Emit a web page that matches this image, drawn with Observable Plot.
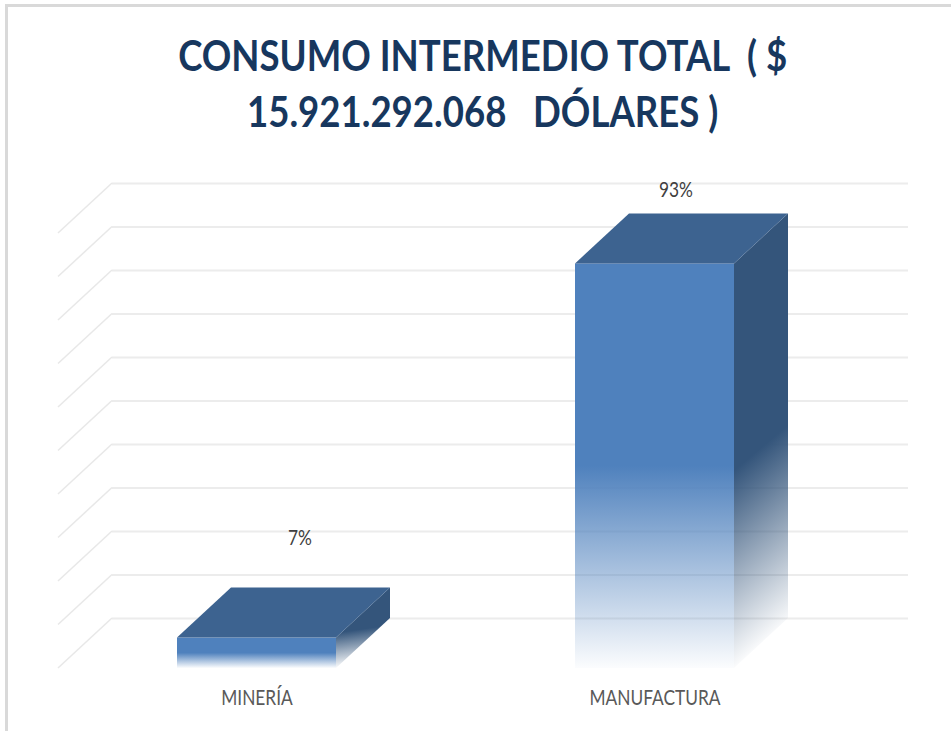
<!DOCTYPE html>
<html>
<head>
<meta charset="utf-8">
<script src="https://cdn.jsdelivr.net/npm/d3@7"></script>
<script src="https://cdn.jsdelivr.net/npm/@observablehq/plot@0.6"></script>
<style>
  html, body { margin: 0; padding: 0; background: #fff; }
  #wrap { position: relative; width: 951px; height: 731px; overflow: hidden; background: #fff; }
  #frame { position: absolute; left: 5px; top: 4px; right: -10px; bottom: -10px;
           border-left: 3px solid #d9d9d9; border-top: 3px solid #d9d9d9; pointer-events: none; }
  #title { height: 150px; box-sizing: border-box; padding-top: 27px; padding-left: 14px;
           text-align: center; font-family: Lato, "Open Sans", sans-serif;
           font-weight: bold; font-size: 42px; line-height: 56px; color: #17375e; white-space: pre; }
  #title span { display: inline-block; transform-origin: 50% 50%; }
  #chart svg { display: block; background: transparent; }
</style>
</head>
<body>
<div id="wrap">
  <div id="title"></div>
  <div id="chart"></div>
  <div id="frame"></div>
</div>
<script>
// ---- data ----
const titleLines = ["CONSUMO INTERMEDIO TOTAL  ( $", "15.921.292.068   DÓLARES )"];
const categories = ["MINERÍA", "MANUFACTURA"];
const shares = [7, 93];
const shareLabels = ["7%", "93%"];
const gridTicks = [0, 10, 20, 30, 40, 50, 60, 70, 80, 90, 100];

// ---- layout constants ----
const DX = -54, DY = 50;            // 3D depth offset in pixels
const TITLE_WIDTH = 609;            // width of first title line
const LABEL_REF_WIDTH = 131;        // width of the longest category label
const FONT = 'Lato, "Open Sans", sans-serif';

const titleEl = document.getElementById("title");
titleEl.innerHTML = titleLines.map(t => `<div><span>${t}</span></div>`).join("");

const rows = categories.map((c, i) => ({cat: c, value: shares[i], label: shareLabels[i]}));

function bw(x) { return typeof x.bandwidth === "function" ? x.bandwidth() : 0; }

function diagonals(index, scales) {
  const {x, y} = scales;
  const x0 = x.range()[0];
  const g = d3.create("svg:g").attr("stroke", "#e8e8e8").attr("stroke-width", 1.5).attr("fill", "none");
  for (const t of gridTicks) {
    g.append("line").attr("x1", x0).attr("y1", y(t)).attr("x2", x0 + DX).attr("y2", y(t) + DY);
  }
  return g.node();
}

function sideFaces(index, scales) {
  const {x, y} = scales;
  const g = d3.create("svg:g");
  rows.forEach(r => {
    const xr = x(r.cat) + bw(x);
    const yt = y(r.value), yb = y(0);
    g.append("polygon")
      .attr("points", [[xr, yt], [xr, yb], [xr + DX, yb + DY], [xr + DX, yt + DY]].map(p => p.join(",")).join(" "))
      .attr("fill", "url(#sideGrad)");
  });
  return g.node();
}

function topFaces(index, scales) {
  const {x, y} = scales;
  const g = d3.create("svg:g");
  rows.forEach(r => {
    const xl = x(r.cat), xr = xl + bw(x);
    const yt = y(r.value);
    g.append("polygon")
      .attr("points", [[xl, yt], [xr, yt], [xr + DX, yt + DY], [xl + DX, yt + DY]].map(p => p.join(",")).join(" "))
      .attr("fill", "#3d6390");
  });
  return g.node();
}

const svg = Plot.plot({
  width: 951,
  height: 581,
  marginLeft: 112,
  marginRight: 43,
  marginTop: 33,
  marginBottom: 113,
  style: {background: "transparent", fontFamily: FONT},
  x: {type: "band", domain: categories, paddingInner: 0.6, paddingOuter: 0.3, axis: null},
  y: {domain: [0, 100], axis: null},
  marks: [
    Plot.ruleY(gridTicks, {stroke: "#ececec", strokeWidth: 2}),
    diagonals,
    sideFaces,
    Plot.barY(rows, {x: "cat", y: "value", dx: DX, dy: DY, fill: "url(#frontGrad)"}),
    topFaces,
    Plot.text(rows.filter(r => r.cat === categories[0]), {x: "cat", y: "value", text: "label", dx: -11, dy: -50,
      fill: "#404040", fontSize: 21, lineAnchor: "middle"}),
    Plot.text(rows.filter(r => r.cat === categories[1]), {x: "cat", y: "value", text: "label", dx: -33, dy: -24,
      fill: "#404040", fontSize: 21, lineAnchor: "middle"}),
    Plot.text(categories, {x: d => d, frameAnchor: "bottom", dx: DX, dy: DY + 30, text: d => d,
      fill: "#595959", fontSize: 21, lineAnchor: "middle"})
  ]
});

const defs = d3.select(svg).insert("defs", ":first-child");
const fg = defs.append("linearGradient").attr("id", "frontGrad").attr("x1", 0).attr("y1", 0).attr("x2", 0).attr("y2", 1);
fg.append("stop").attr("offset", 0).attr("stop-color", "#4f81bd").attr("stop-opacity", 1);
fg.append("stop").attr("offset", 0.5).attr("stop-color", "#4f81bd").attr("stop-opacity", 1);
fg.append("stop").attr("offset", 1).attr("stop-color", "#4f81bd").attr("stop-opacity", 0.02);
const sg = defs.append("linearGradient").attr("id", "sideGrad").attr("x1", 0).attr("y1", 0).attr("x2", 0.1).attr("y2", 1);
sg.append("stop").attr("offset", 0).attr("stop-color", "#34557b").attr("stop-opacity", 1);
sg.append("stop").attr("offset", 0.56).attr("stop-color", "#34557b").attr("stop-opacity", 1);
sg.append("stop").attr("offset", 1).attr("stop-color", "#34557b").attr("stop-opacity", 0.0);

document.getElementById("chart").appendChild(svg);

// Condense text horizontally (the reference uses a narrow face)
const spans = titleEl.querySelectorAll("span");
const kTitle = TITLE_WIDTH / spans[0].getBoundingClientRect().width;
spans.forEach(s => { s.style.transform = `scaleX(${kTitle})`; });

const texts = Array.from(svg.querySelectorAll("text"));
const refText = texts.find(t => t.textContent === categories[1]);
const kLabel = LABEL_REF_WIDTH / refText.getComputedTextLength();
texts.forEach(t => {
  const w = t.getComputedTextLength();
  t.setAttribute("textLength", w * kLabel);
  t.setAttribute("lengthAdjust", "spacingAndGlyphs");
});
</script>
</body>
</html>
